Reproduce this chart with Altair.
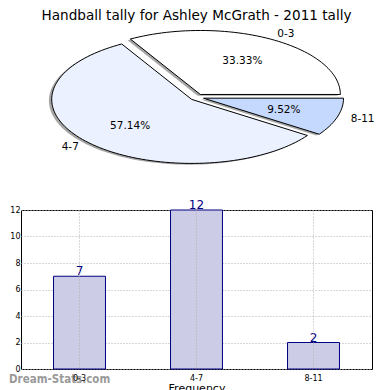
import altair as alt
import numpy as np
import pandas as pd

# ---- data ----
categories = ["0-3", "4-7", "8-11"]
counts = [7, 12, 2]
slice_colors = ["#ffffff", "#ebf1fe", "#c5d8fe"]
chart_title = "Handball tally for Ashley McGrath - 2011 tally"
x_title = "Frequency"
y_ticks = [0, 2, 4, 6, 8, 10, 12]
watermark = ["Dream-Stats.com"]

# ---- pie geometry derived from the counts (matplotlib-like pie) ----
total = sum(counts)
explode = 0.05
poly_rows, label_rows = [], []
start = 0.0
for cat, n in zip(categories, counts):
    frac = n / total
    t1, t2 = start, start + frac * 360.0
    mid = np.radians((t1 + t2) / 2)
    ox, oy = explode * np.cos(mid), explode * np.sin(mid)
    steps = max(int((t2 - t1) / 2), 2)
    angs = np.radians(np.linspace(t1, t2, steps + 1))
    pts = [(ox, oy)] + [(ox + np.cos(a), oy + np.sin(a)) for a in angs]
    for k, (px, py) in enumerate(pts):
        poly_rows.append({"cat": cat, "k": k, "x": px, "y": py,
                          "sx": px - 0.02, "sy": py - 0.02})
    label_rows.append({"cat": cat,
                       "lx": ox + 1.1 * np.cos(mid), "ly": oy + 1.1 * np.sin(mid),
                       "side": "left" if np.cos(mid) > 0 else "right",
                       "px": ox + 0.6 * np.cos(mid), "py": oy + 0.6 * np.sin(mid),
                       "pct": f"{frac * 100:.2f}%"})
    start = t2

poly = pd.DataFrame(poly_rows)
labels = pd.DataFrame(label_rows)

xs = alt.Scale(domain=[-1.256, 1.251], nice=False, zero=False)
ys = alt.Scale(domain=[-1.34, 1.16], nice=False, zero=False)

shadow = alt.Chart(poly).mark_line(
    interpolate="linear-closed", fill="#4d4d4d", fillOpacity=0.5, strokeOpacity=0
).encode(
    x=alt.X("sx:Q", scale=xs, axis=None),
    y=alt.Y("sy:Q", scale=ys, axis=None),
    detail="cat:N",
    order="k:Q",
)

slices = alt.Chart(poly).mark_line(
    interpolate="linear-closed", stroke="black", strokeWidth=1
).encode(
    x=alt.X("x:Q", scale=xs, axis=None),
    y=alt.Y("y:Q", scale=ys, axis=None),
    fill=alt.Fill("cat:N", scale=alt.Scale(domain=categories, range=slice_colors), legend=None),
    order="k:Q",
)

pct_text = alt.Chart(labels).mark_text(fontSize=10.5, color="black").encode(
    x=alt.X("px:Q", scale=xs, axis=None),
    y=alt.Y("py:Q", scale=ys, axis=None),
    text="pct:N",
)
lab_left = alt.Chart(labels).transform_filter("datum.side == 'left'").mark_text(
    fontSize=10.5, color="black", align="left").encode(
    x=alt.X("lx:Q", scale=xs, axis=None),
    y=alt.Y("ly:Q", scale=ys, axis=None),
    text="cat:N",
)
lab_right = alt.Chart(labels).transform_filter("datum.side == 'right'").mark_text(
    fontSize=10.5, color="black", align="right").encode(
    x=alt.X("lx:Q", scale=xs, axis=None),
    y=alt.Y("ly:Q", scale=ys, axis=None),
    text="cat:N",
)

pie = alt.layer(shadow, slices, pct_text, lab_left, lab_right).properties(
    width=351, height=160,
    title=alt.Title(chart_title, fontSize=13.6, fontWeight="normal", offset=0, anchor="middle"),
)

# ---- bar chart ----
bar_df = pd.DataFrame({"cat": categories, "count": counts})
xenc = alt.X("cat:N", sort=categories,
             scale=alt.Scale(paddingInner=0, paddingOuter=0),
             axis=alt.Axis(title=x_title, labelAngle=0, ticks=False, domain=False,
                           grid=True, bandPosition=0.5, gridDash=[1, 2], gridColor="#b0b0b0",
                           labelFontSize=8, labelPadding=5, titleFontSize=11,
                           titleFontWeight="normal", titlePadding=0, zindex=1,
                           labelColor="black", titleColor="black"))
yenc = alt.Y("count:Q", scale=alt.Scale(domain=[0, 12], nice=False),
             axis=alt.Axis(values=y_ticks, tickCount=len(y_ticks), labelOverlap=False,
                           title=None, ticks=False, domain=False,
                           grid=True, gridDash=[1, 2], gridColor="#b0b0b0",
                           labelFontSize=8, labelPadding=1, labelColor="black"))

bars = alt.Chart(bar_df).mark_bar(
    fill="#ccccE6", stroke="#000080", strokeWidth=1, width=alt.RelativeBandSize(0.444)
).encode(x=xenc, y=yenc)

bar_text = alt.Chart(bar_df).mark_text(
    color="#000080", fontSize=12, baseline="alphabetic", dy=-1
).encode(x=alt.X("cat:N", sort=categories), y="count:Q", text="count:Q")

wm = alt.Chart(pd.DataFrame({"t": watermark})).mark_text(
    align="left", baseline="middle", fontSize=11.5, fontWeight="bold",
    font="DejaVu Sans Condensed", color="#9a9a9a"
).encode(x=alt.value(-12), y=alt.value(170), text="t:N")

bar_chart = alt.layer(bars, bar_text, wm).properties(
    width=351, height=159,
    view=alt.ViewBackground(stroke="black", strokeWidth=1),
)

chart = alt.vconcat(pie, bar_chart, spacing=14).properties(padding=0).configure(
    font="DejaVu Sans"
).configure_view(stroke="transparent")

chart.save("out.html", embed_options={"renderer": "svg", "actions": False})
